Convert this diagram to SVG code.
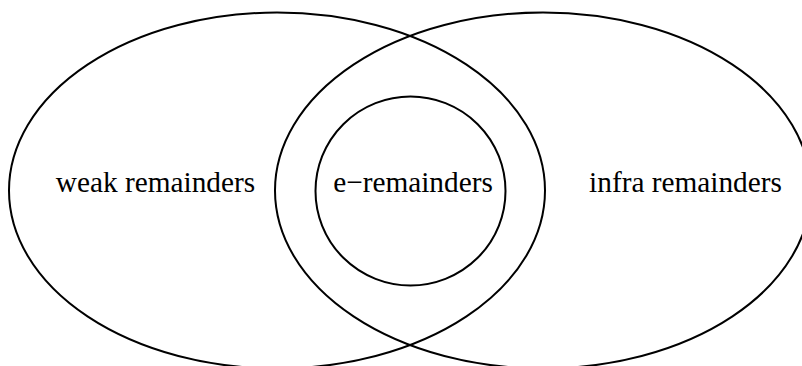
<svg xmlns="http://www.w3.org/2000/svg" width="802" height="366" viewBox="0 0 802 366">
<style>
.set{fill:none;stroke:#000;stroke-width:2}
.lbl{font-family:"Liberation Serif","Times New Roman",serif;font-size:29.3px;fill:#000;text-anchor:middle}
</style>
<rect width="802" height="366" fill="#fff"/>
<g id="weak">
<ellipse class="set" cx="277" cy="190.5" rx="268" ry="178"/>
<text class="lbl" x="155.5" y="191.7">weak remainders</text>
</g>
<g id="infra">
<ellipse class="set" cx="543" cy="190.5" rx="268" ry="178"/>
<text class="lbl" x="685.5" y="191.7">infra remainders</text>
</g>
<g id="e">
<ellipse class="set" cx="410.5" cy="191" rx="95" ry="94.5"/>
<text class="lbl" x="413" y="191.7">e−remainders</text>
</g>
<g id="connectors"/>
</svg>
